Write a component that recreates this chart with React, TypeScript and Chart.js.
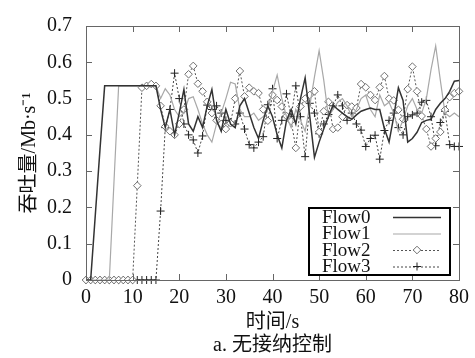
import React, { useEffect, useRef } from 'react';
import { Chart, registerables } from 'chart.js';

Chart.register(...registerables);

const times = [
  0, 1, 2, 3, 4, 5, 6, 7, 8, 9, 10, 11, 12, 13, 14, 15, 16, 17, 18, 19, 20,
  21, 22, 23, 24, 25, 26, 27, 28, 29, 30, 31, 32, 33, 34, 35, 36, 37, 38, 39, 40,
  41, 42, 43, 44, 45, 46, 47, 48, 49, 50, 51, 52, 53, 54, 55, 56, 57, 58, 59, 60,
  61, 62, 63, 64, 65, 66, 67, 68, 69, 70, 71, 72, 73, 74, 75, 76, 77, 78, 79, 80,
];

const flow0 = [
  0, 0, 0.18, 0.36, 0.535, 0.535, 0.535, 0.535, 0.535, 0.535, 0.535, 0.535, 0.535, 0.535, 0.535, 0.535,
  0.47, 0.42, 0.47, 0.4, 0.46, 0.525, 0.43, 0.41, 0.45, 0.42, 0.48, 0.525, 0.44, 0.41, 0.47,
  0.43, 0.42, 0.48, 0.5, 0.46, 0.42, 0.39, 0.44, 0.48, 0.45, 0.4, 0.364, 0.44, 0.47, 0.43,
  0.5, 0.557, 0.45, 0.338, 0.38, 0.417, 0.45, 0.482, 0.47, 0.46, 0.45, 0.443, 0.455, 0.465, 0.47,
  0.474, 0.47, 0.47, 0.417, 0.38, 0.45, 0.53, 0.495, 0.38, 0.39, 0.407, 0.434, 0.44, 0.443, 0.47,
  0.487, 0.5, 0.52, 0.548, 0.55,
];

const flow1 = [
  0, 0, 0, 0, 0, 0, 0.27, 0.535, 0.535, 0.535, 0.535, 0.535, 0.535, 0.535, 0.535, 0.535,
  0.5, 0.527, 0.51, 0.47, 0.45, 0.46, 0.5, 0.505, 0.47, 0.43, 0.4, 0.38, 0.43, 0.46, 0.5,
  0.545, 0.54, 0.47, 0.45, 0.45, 0.46, 0.44, 0.45, 0.47, 0.52, 0.565, 0.5, 0.45, 0.42, 0.47,
  0.44, 0.41, 0.48, 0.56, 0.632, 0.55, 0.45, 0.47, 0.49, 0.5, 0.48, 0.45, 0.47, 0.5, 0.51,
  0.47, 0.45, 0.51, 0.48, 0.49, 0.46, 0.41, 0.44, 0.48, 0.5, 0.47, 0.46, 0.5, 0.58, 0.645,
  0.55, 0.46, 0.45, 0.46, 0.45,
];

const flow2 = [
  0, 0, 0, 0, 0, 0, 0, 0, 0, 0, 0, 0.26, 0.53, 0.535, 0.54, 0.535,
  0.48, 0.423, 0.41, 0.4, 0.43, 0.47, 0.567, 0.59, 0.541, 0.52, 0.491, 0.46, 0.44, 0.43, 0.416,
  0.432, 0.5, 0.576, 0.506, 0.53, 0.52, 0.515, 0.47, 0.439, 0.51, 0.496, 0.478, 0.452, 0.438, 0.364,
  0.478, 0.5, 0.51, 0.52, 0.408, 0.465, 0.491, 0.416, 0.42, 0.45, 0.482, 0.478, 0.474, 0.54, 0.531,
  0.51, 0.496, 0.531, 0.562, 0.5, 0.495, 0.469, 0.443, 0.526, 0.588, 0.52, 0.452, 0.416, 0.368, 0.39,
  0.408, 0.469, 0.504, 0.515, 0.52,
];

const flow3 = [
  0, 0, 0, 0, 0, 0, 0, 0, 0, 0, 0, 0, 0, 0, 0, 0,
  0.19, 0.42, 0.47, 0.57, 0.5, 0.43, 0.4, 0.386, 0.35, 0.397, 0.482, 0.47, 0.48, 0.46, 0.44,
  0.435, 0.43, 0.46, 0.416, 0.373, 0.364, 0.38, 0.395, 0.483, 0.527, 0.39, 0.44, 0.513, 0.45, 0.535,
  0.45, 0.34, 0.487, 0.46, 0.403, 0.43, 0.456, 0.48, 0.51, 0.48, 0.44, 0.46, 0.43, 0.413, 0.368,
  0.39, 0.399, 0.333, 0.412, 0.44, 0.46, 0.42, 0.4, 0.45, 0.455, 0.46, 0.49, 0.495, 0.45, 0.37,
  0.434, 0.465, 0.373, 0.368, 0.368,
];

const seriesNames = ['Flow0', 'Flow1', 'Flow2', 'Flow3'];
const xTicks = [0, 10, 20, 30, 40, 50, 60, 70, 80];
const yTicks = [0, 0.1, 0.2, 0.3, 0.4, 0.5, 0.6, 0.7];
const xTitle = '时间/s';
const caption = 'a. 无接纳控制';
const yTitle = '吞吐量/Mb·s⁻¹';

const SERIF = '"Liberation Serif", "Noto Sans CJK SC", serif';

const styles = [
  { color: '#333333', width: 1.5, dash: [] as number[], point: false as false | string, pr: 0, pbg: '#fff', pbc: '#333333' },
  { color: '#a8a8a8', width: 1.2, dash: [] as number[], point: false as false | string, pr: 0, pbg: '#fff', pbc: '#a8a8a8' },
  { color: '#555555', width: 1, dash: [2, 2], point: 'rectRot', pr: 3.8, pbg: '#ffffff', pbc: '#707070' },
  { color: '#444444', width: 1, dash: [2, 2], point: 'cross', pr: 4, pbg: '#222', pbc: '#222' },
];

const allSeries = [flow0, flow1, flow2, flow3];

const framePlugin = {
  id: 'frame',
  afterDraw(chart: any) {
    const { ctx, chartArea: a, scales } = chart;
    const xs = scales.x;
    const ys = scales.y;
    ctx.save();
    ctx.strokeStyle = '#666';
    ctx.lineWidth = 1;
    ctx.setLineDash([]);
    ctx.strokeRect(Math.round(a.left) + 0.5, Math.round(a.top) + 0.5, Math.round(a.right - a.left), Math.round(a.bottom - a.top));
    const tl = 6;
    ctx.beginPath();
    xTicks.forEach((t) => {
      const px = Math.round(xs.getPixelForValue(t)) + 0.5;
      ctx.moveTo(px, a.bottom);
      ctx.lineTo(px, a.bottom - tl);
      ctx.moveTo(px, a.top);
      ctx.lineTo(px, a.top + tl);
    });
    yTicks.forEach((t) => {
      const py = Math.round(ys.getPixelForValue(t)) + 0.5;
      ctx.moveTo(a.left, py);
      ctx.lineTo(a.left + tl, py);
      ctx.moveTo(a.right, py);
      ctx.lineTo(a.right - tl, py);
    });
    ctx.stroke();

    // legend
    const bw = 141;
    const bh = 67;
    const bx = Math.round(a.right - 9 - bw);
    const by = Math.round(a.bottom - 5 - bh);
    ctx.fillStyle = '#fff';
    ctx.fillRect(bx, by, bw, bh);
    ctx.strokeStyle = '#000';
    ctx.lineWidth = 2;
    ctx.strokeRect(bx, by, bw, bh);
    ctx.font = '19px ' + SERIF;
    ctx.textBaseline = 'middle';
    ctx.textAlign = 'left';
    seriesNames.forEach((name, i) => {
      const cy = by + 9 + i * 16.5;
      ctx.fillStyle = '#111';
      ctx.fillText(name, bx + 13, cy + 1);
      const s = styles[i];
      ctx.strokeStyle = s.color;
      ctx.lineWidth = s.width;
      ctx.setLineDash(s.dash);
      ctx.beginPath();
      ctx.moveTo(bx + 84, cy + 0.5);
      ctx.lineTo(bx + 132, cy + 0.5);
      ctx.stroke();
      ctx.setLineDash([]);
      const mx = bx + 108;
      if (s.point === 'rectRot') {
        ctx.fillStyle = s.pbg;
        ctx.strokeStyle = s.pbc;
        ctx.lineWidth = 1;
        ctx.beginPath();
        ctx.moveTo(mx, cy - s.pr);
        ctx.lineTo(mx + s.pr, cy);
        ctx.lineTo(mx, cy + s.pr);
        ctx.lineTo(mx - s.pr, cy);
        ctx.closePath();
        ctx.fill();
        ctx.stroke();
      } else if (s.point === 'cross') {
        ctx.strokeStyle = s.pbc;
        ctx.lineWidth = 1;
        ctx.beginPath();
        ctx.moveTo(mx - s.pr, cy);
        ctx.lineTo(mx + s.pr, cy);
        ctx.moveTo(mx, cy - s.pr);
        ctx.lineTo(mx, cy + s.pr);
        ctx.stroke();
      }
    });
    ctx.restore();
  },
};

export default function App() {
  const ref = useRef<HTMLCanvasElement>(null);
  useEffect(() => {
    const datasets = allSeries.map((vals, i) => {
      const s = styles[i];
      return {
        label: seriesNames[i],
        data: vals.map((v, k) => ({ x: times[k], y: v })),
        borderColor: s.color,
        borderWidth: s.width,
        borderDash: s.dash,
        pointStyle: s.point,
        pointRadius: s.point ? s.pr : 0,
        pointBackgroundColor: s.pbg,
        pointBorderColor: s.pbc,
        pointBorderWidth: 1,
        tension: 0,
        fill: false,
        clip: false as any,
      };
    });
    const chart = new Chart(ref.current as HTMLCanvasElement, {
      type: 'line',
      data: { datasets } as any,
      options: {
        animation: false,
        responsive: false,
        maintainAspectRatio: false,
        layout: { padding: { left: 0, right: 16, top: 14, bottom: 0 } },
        plugins: { legend: { display: false }, tooltip: { enabled: false } },
        scales: {
          x: {
            type: 'linear',
            min: 0,
            max: 80,
            afterBuildTicks: (scale: any) => {
              scale.ticks = xTicks.map((v) => ({ value: v }));
            },
            afterFit: (scale: any) => {
              scale.height = 78;
            },
            grid: { display: false, drawTicks: false },
            border: { display: false },
            ticks: {
              padding: 6,
              color: '#111',
              font: { family: SERIF, size: 20, lineHeight: 1.2 },
              callback: (v: any) => String(v),
              maxRotation: 0,
              autoSkip: false,
            },
            title: {
              display: true,
              text: [xTitle, caption],
              color: '#111',
              font: { family: SERIF, size: 20, lineHeight: 1.15 },
              padding: { top: 0, bottom: 1 },
            },
          },
          y: {
            type: 'linear',
            min: 0,
            max: 0.7,
            afterBuildTicks: (scale: any) => {
              scale.ticks = yTicks.map((v) => ({ value: v }));
            },
            afterFit: (scale: any) => {
              scale.width = 86;
            },
            grid: { display: false, drawTicks: false },
            border: { display: false },
            ticks: {
              padding: 14,
              color: '#111',
              font: { family: SERIF, size: 20, lineHeight: 1.2 },
              callback: (v: any) => (v === 0 ? '0' : Number(v).toFixed(1)),
              autoSkip: false,
            },
            title: {
              display: true,
              text: yTitle,
              color: '#111',
              font: { family: SERIF, size: 20, lineHeight: 1.2 },
              padding: { top: 18, bottom: 0 },
            },
          },
        },
      },
      plugins: [framePlugin],
    } as any);
    return () => chart.destroy();
  }, []);
  return (
    <div style={{ position: 'absolute', left: 0, top: 0, width: 475, height: 358, background: '#fff' }}>
      <canvas ref={ref} width={475} height={358} style={{ width: 475, height: 358, display: 'block' }} />
    </div>
  );
}
